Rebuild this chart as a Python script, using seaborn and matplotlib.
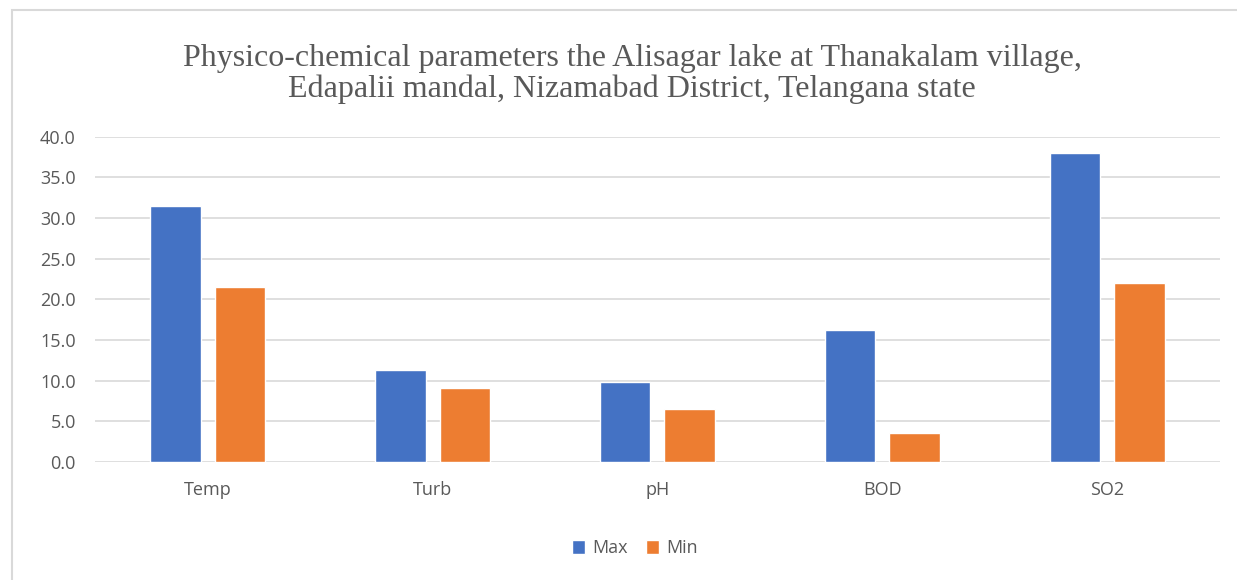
import numpy as np
import pandas as pd

import matplotlib.pyplot as plt
import seaborn as sns
from matplotlib.patches import Rectangle

# Datos
parametros = ["Temp", "Turb", "pH", "BOD", "SO2"]
valores_max = [31.5, 11.3, 9.8, 16.3, 38.0]
valores_min = [21.5, 9.1, 6.5, 3.6, 22.0]
series = ["Max", "Min"]
colores = ["#4472C4", "#ED7D31"]

titulo = ("Physico-chemical parameters the Alisagar lake at Thanakalam village,\n"
          "Edapalii mandal, Nizamabad District, Telangana state")

df = pd.DataFrame({
    "Parametro": parametros * 2,
    "Serie": ["Max"] * len(parametros) + ["Min"] * len(parametros),
    "Valor": valores_max + valores_min,
})

sns.set_style("white")
plt.rcParams["font.family"] = ["Open Sans", "DejaVu Sans"]

fig = plt.figure(figsize=(12.37, 5.8), dpi=100)
ax = fig.add_axes([0.077, 0.2034, 0.909, 0.5607])

sns.barplot(
    data=df, x="Parametro", y="Valor", hue="Serie",
    palette=colores, width=0.573, gap=0.217, ax=ax,
    saturation=1, legend=True,
)

ax.set_ylim(0, 40)
ax.set_yticks(np.arange(0, 40.1, 5))
ax.set_yticklabels([f"{v:.1f}" for v in np.arange(0, 40.1, 5)])
ax.set_xlim(-0.5, len(parametros) - 0.5)
ax.grid(axis="y", color="#D9D9D9", linewidth=1.2)
ax.set_axisbelow(True)
for lado in ["top", "right", "left", "bottom"]:
    ax.spines[lado].set_visible(False)
ax.tick_params(axis="both", length=0, labelsize=13, labelcolor="#595959")
ax.tick_params(axis="x", pad=14)
ax.tick_params(axis="y", pad=14)
ax.set_xlabel("")
ax.set_ylabel("")

ax.legend(
    loc="center", bbox_to_anchor=(0.48, -0.265), ncol=2, frameon=False,
    fontsize=13, labelcolor="#595959", handlelength=0.75, handleheight=0.75,
    columnspacing=1.0, handletextpad=0.4,
)

fig.text(0.511, 0.872, titulo, ha="center", va="center", fontsize=23,
         family="Liberation Serif", color="#595959", linespacing=1.05)

# Borde del area del grafico
fig.patches.append(Rectangle((12 / 1237, -0.05), 1.1, 1 - 10 / 580 + 0.05,
                             transform=fig.transFigure, fill=False,
                             edgecolor="#D9D9D9", linewidth=1.5))

fig.savefig("out.png", dpi=100)
